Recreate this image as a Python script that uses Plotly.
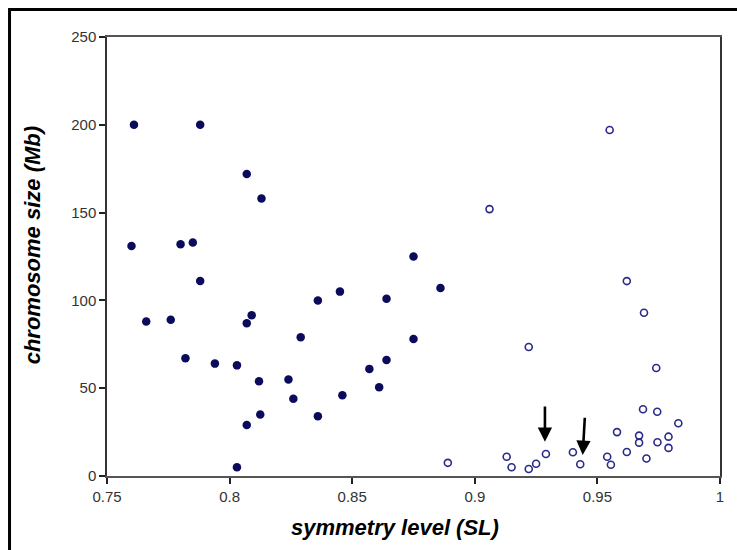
import plotly.graph_objects as go

# Filled points (left group)
filled_sl = [0.761, 0.788, 0.807, 0.813, 0.760, 0.780, 0.785, 0.788, 0.875, 0.886,
             0.845, 0.836, 0.864, 0.766, 0.776, 0.809, 0.807, 0.829, 0.875, 0.782,
             0.794, 0.803, 0.864, 0.857, 0.812, 0.824, 0.861, 0.826, 0.846, 0.8125,
             0.836, 0.807, 0.803]
filled_mb = [200, 200, 172, 158, 131, 132, 133, 111, 125, 107,
             105, 100, 101, 88, 89, 91.5, 87, 79, 78, 67,
             64, 63, 66, 61, 54, 55, 50.5, 44, 46, 35,
             34, 29, 5]

# Open points (right group)
open_sl = [0.955, 0.906, 0.962, 0.969, 0.974, 0.922, 0.889, 0.913, 0.915, 0.922,
           0.925, 0.929, 0.940, 0.943, 0.954, 0.9555, 0.958, 0.962, 0.967, 0.967,
           0.970, 0.9686, 0.9744, 0.9745, 0.979, 0.979, 0.983]
open_mb = [197, 152, 111, 93, 61.5, 73.5, 7.5, 11, 5, 4,
           7, 12.5, 13.5, 6.7, 11, 6.4, 25, 13.7, 19, 23,
           10, 38, 36.6, 19.2, 22.4, 16, 30]

# Arrows (tip x, tail x, tail y, tip y)
arrow_sl = [0.9286, 0.9440]
arrow_tail_sl = [0.9286, 0.9449]
arrow_tail_mb = [40.5, 34]
arrow_tip_mb = [19.5, 12]

x_ticks = [0.75, 0.8, 0.85, 0.9, 0.95, 1.0]
x_tick_text = ["0.75", "0.8", "0.85", "0.9", "0.95", "1"]
y_ticks = [0, 50, 100, 150, 200, 250]

FONT = "Liberation Sans, Arial, sans-serif"

fig = go.Figure()
fig.add_trace(go.Scatter(
    x=filled_sl, y=filled_mb, mode="markers",
    marker=dict(symbol="circle", size=8.5, color="#0b0b5c",
                line=dict(width=0)),
    showlegend=False, cliponaxis=False))
fig.add_trace(go.Scatter(
    x=open_sl, y=open_mb, mode="markers",
    marker=dict(symbol="circle-open", size=7, color="#2a2a8a",
                line=dict(width=1.6, color="#2a2a8a")),
    showlegend=False, cliponaxis=False))

annotations = []
for tx, ty, hx, hy in zip(arrow_tail_sl, arrow_tail_mb, arrow_sl, arrow_tip_mb):
    annotations.append(dict(
        x=hx, y=hy, ax=tx, ay=ty, xref="x", yref="y", axref="x", ayref="y",
        showarrow=True, arrowhead=2, arrowsize=1.1, arrowwidth=2.6,
        arrowcolor="#000000", text=""))

annotations.append(dict(
    text="<b><i>symmetry level (SL)</i></b>", xref="paper", yref="paper",
    x=0.47, y=-0.118, showarrow=False, xanchor="center", yanchor="middle",
    font=dict(family=FONT, size=22, color="#000000")))
annotations.append(dict(
    text="<b><i>chromosome size (Mb)</i></b>", xref="paper", yref="paper",
    x=-0.122, y=0.526, showarrow=False, xanchor="center", yanchor="middle",
    textangle=-90, font=dict(family=FONT, size=22, color="#000000")))

fig.update_layout(
    width=737, height=550,
    margin=dict(l=107, r=17, t=37, b=74, pad=0),
    paper_bgcolor="white", plot_bgcolor="white",
    font=dict(family=FONT, size=15, color="#333333"),
    annotations=annotations,
    shapes=[dict(type="rect", xref="paper", yref="paper",
                 x0=-0.159, x1=1.06, y0=-0.2, y1=1.0626,
                 line=dict(color="black", width=3), fillcolor="rgba(0,0,0,0)",
                 layer="above")],
    xaxis=dict(range=[0.75, 1.0], tickvals=x_ticks, ticktext=x_tick_text,
               showgrid=False, zeroline=False, showline=True, mirror=True,
               linecolor="#555555", linewidth=2, ticks="outside", ticklen=6,
               tickcolor="#222222", tickwidth=1.5,
               tickfont=dict(family=FONT, size=15, color="#333333")),
    yaxis=dict(range=[0, 250], tickvals=y_ticks,
               showgrid=False, zeroline=False, showline=True, mirror=True,
               linecolor="#333333", linewidth=1.5, ticks="outside", ticklen=6,
               tickcolor="#222222", tickwidth=1.5,
               tickfont=dict(family=FONT, size=15, color="#333333")),
)

fig.write_html("out.html")
